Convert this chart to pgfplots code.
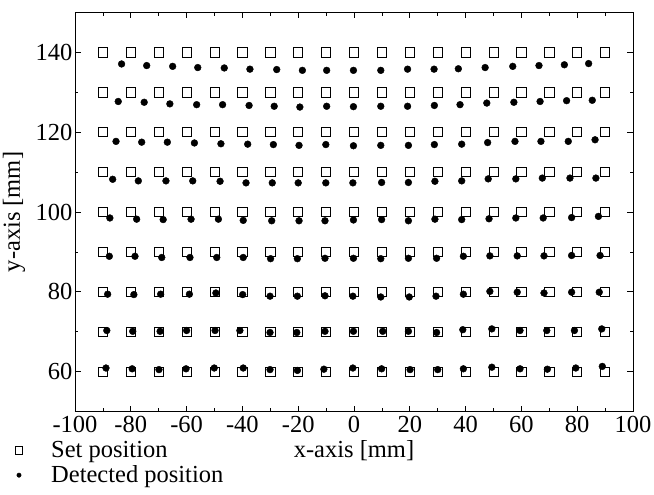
\documentclass[border=0pt]{standalone}
\usepackage{pgfplots}
\pgfplotsset{compat=1.18}
\usepackage{fontspec}
\setmainfont{Liberation Serif}
\begin{document}
\begin{tikzpicture}
\path[use as bounding box] (-75bp,-83.5bp) rectangle (579bp,411.5bp);
\begin{axis}[
  at={(0,0)}, anchor=south west,
  scale only axis, width=558bp, height=399bp,
  xmin=-100, xmax=100, ymin=50, ymax=150,
  xtick={-100,-80,...,100}, ytick={60,80,...,140},
  minor xtick={-90,-70,...,90}, minor ytick={50,70,...,150},
  major tick length=6bp, minor tick length=3.5bp,
  tick style={line width=0.7bp, black},
  axis line style={line width=0.8bp},
  font=\fontsize{24.5bp}{29bp}\selectfont,
  /pgf/number format/assume math mode=true,
  yticklabel style={xshift=1bp},
  xticklabel style={yshift=-1bp},
  every axis x label/.style={at={(rel axis cs:0.5,0)}, yshift=-39bp, anchor=center},
  every axis y label/.style={at={(rel axis cs:0,0.5)}, xshift=-61bp, rotate=90, anchor=center},
  xlabel={x-axis [mm]}, ylabel={y-axis [mm]},
  legend image code/.code={\path (0bp,0bp) (29bp,0bp); \draw[#1] plot coordinates {(0bp,0bp)};},
  legend style={draw=none, fill=none, at={(rel axis cs:0,0)}, anchor=north west,
    xshift=-60bp, yshift=-29bp, font=\fontsize{24.5bp}{29bp}\selectfont,
    row sep=4.5bp, column sep=2bp, inner sep=0bp, nodes={inner sep=1bp}},
  legend cell align=left,
]
\addplot[only marks, mark=square, mark size=4.6bp, mark options={line width=0.7bp, black}, legend image post style={mark size=3.8bp}] coordinates {
(-90,60) (-80,60) (-70,60) (-60,60) (-50,60) (-40,60) (-30,60) (-20,60) (-10,60) (0,60) (10,60) (20,60) (30,60) (40,60) (50,60) (60,60) (70,60) (80,60) (90,60)
(-90,70) (-80,70) (-70,70) (-60,70) (-50,70) (-40,70) (-30,70) (-20,70) (-10,70) (0,70) (10,70) (20,70) (30,70) (40,70) (50,70) (60,70) (70,70) (80,70) (90,70)
(-90,80) (-80,80) (-70,80) (-60,80) (-50,80) (-40,80) (-30,80) (-20,80) (-10,80) (0,80) (10,80) (20,80) (30,80) (40,80) (50,80) (60,80) (70,80) (80,80) (90,80)
(-90,90) (-80,90) (-70,90) (-60,90) (-50,90) (-40,90) (-30,90) (-20,90) (-10,90) (0,90) (10,90) (20,90) (30,90) (40,90) (50,90) (60,90) (70,90) (80,90) (90,90)
(-90,100) (-80,100) (-70,100) (-60,100) (-50,100) (-40,100) (-30,100) (-20,100) (-10,100) (0,100) (10,100) (20,100) (30,100) (40,100) (50,100) (60,100) (70,100) (80,100) (90,100)
(-90,110) (-80,110) (-70,110) (-60,110) (-50,110) (-40,110) (-30,110) (-20,110) (-10,110) (0,110) (10,110) (20,110) (30,110) (40,110) (50,110) (60,110) (70,110) (80,110) (90,110)
(-90,120) (-80,120) (-70,120) (-60,120) (-50,120) (-40,120) (-30,120) (-20,120) (-10,120) (0,120) (10,120) (20,120) (30,120) (40,120) (50,120) (60,120) (70,120) (80,120) (90,120)
(-90,130) (-80,130) (-70,130) (-60,130) (-50,130) (-40,130) (-30,130) (-20,130) (-10,130) (0,130) (10,130) (20,130) (30,130) (40,130) (50,130) (60,130) (70,130) (80,130) (90,130)
(-90,140) (-80,140) (-70,140) (-60,140) (-50,140) (-40,140) (-30,140) (-20,140) (-10,140) (0,140) (10,140) (20,140) (30,140) (40,140) (50,140) (60,140) (70,140) (80,140) (90,140)
};
\addlegendentry{Set position}
\addplot[only marks, mark=*, mark size=3.4bp, mark options={black}, legend image post style={mark size=2.2bp}] coordinates {
(-83.3,137.1) (-74.3,136.7) (-65.0,136.5) (-56.0,136.2) (-46.5,136.1) (-37.3,135.8) (-27.7,135.7) (-18.5,135.5) (-9.8,135.5) (-0.2,135.5) (9.6,135.5) (19.2,135.8) (28.7,135.8) (37.4,135.9) (47.0,136.2) (56.9,136.5) (66.3,136.7) (75.4,136.9) (84.1,137.2)
(-84.5,127.7) (-75.2,127.5) (-66.0,127.1) (-56.4,126.9) (-47.1,126.9) (-37.6,126.7) (-28.6,126.5) (-19.4,126.3) (-9.8,126.5) (-0.2,126.4) (9.6,126.5) (19.2,126.5) (28.8,126.7) (38.0,126.9) (47.6,127.3) (57.3,127.5) (66.7,127.7) (76.2,127.9) (85.4,128.0)
(-85.3,117.7) (-76.1,117.5) (-66.9,117.5) (-57.2,117.3) (-47.7,117.1) (-38.1,117.0) (-28.9,116.9) (-19.7,116.7) (-10.1,116.9) (-0.2,116.6) (9.6,116.7) (19.5,116.7) (28.8,116.9) (38.6,117.0) (47.9,117.4) (57.7,117.7) (67.0,117.7) (76.8,117.7) (86.4,118.1)
(-86.5,108.2) (-77.3,107.8) (-67.4,107.8) (-57.8,107.8) (-48.0,107.7) (-38.7,107.3) (-29.3,107.3) (-20.0,107.3) (-10.1,107.3) (-0.4,107.3) (9.9,107.4) (19.5,107.4) (29.0,107.7) (38.6,107.8) (48.1,108.3) (58.0,108.3) (67.5,108.5) (77.4,108.5) (86.7,108.5)
(-87.5,98.5) (-77.9,98.2) (-68.4,98.1) (-58.4,98.2) (-48.6,98.2) (-39.7,97.9) (-29.5,97.8) (-19.7,97.8) (-10.4,97.8) (-0.2,98.0) (9.9,98.1) (19.5,97.8) (29.0,98.2) (38.6,98.1) (48.4,98.3) (58.0,98.5) (67.8,98.5) (78.0,98.6) (87.6,98.9)
(-87.7,88.9) (-78.5,88.9) (-68.9,88.6) (-58.8,88.6) (-49.2,88.6) (-39.7,88.6) (-29.9,88.3) (-20.3,88.3) (-10.4,88.4) (-0.2,88.4) (9.6,88.3) (19.5,88.4) (29.6,88.4) (39.2,88.9) (48.7,89.0) (58.5,89.0) (68.1,89.0) (78.0,89.1) (88.2,89.1)
(-88.3,79.4) (-78.9,79.3) (-69.3,79.4) (-59.0,79.4) (-49.5,79.7) (-39.9,79.3) (-30.1,78.9) (-20.3,78.9) (-10.4,79.0) (-0.4,78.9) (9.6,78.7) (19.8,78.7) (29.4,78.9) (39.2,79.4) (48.7,80.1) (58.5,79.9) (68.1,79.7) (78.0,79.9) (87.9,79.9)
(-88.6,70.3) (-79.3,70.1) (-69.5,70.1) (-60.0,70.3) (-49.8,70.3) (-40.9,70.3) (-30.1,69.8) (-20.5,69.8) (-10.4,70.1) (-0.2,70.1) (10.3,70.1) (19.5,70.1) (29.6,69.8) (39.0,70.5) (49.4,70.7) (59.5,70.3) (69.1,70.3) (79.0,70.3) (88.8,70.7)
(-88.9,60.9) (-79.5,60.7) (-69.9,60.5) (-60.2,60.7) (-50.1,60.9) (-39.7,60.9) (-30.1,60.5) (-20.3,60.3) (-10.8,60.6) (-0.4,60.9) (9.9,60.7) (20.1,60.5) (30.0,60.5) (39.2,60.7) (49.4,61.1) (59.5,60.7) (69.3,60.6) (79.5,60.9) (89.0,61.3)
};
\addlegendentry{Detected position}
\end{axis}
\end{tikzpicture}
\end{document}
